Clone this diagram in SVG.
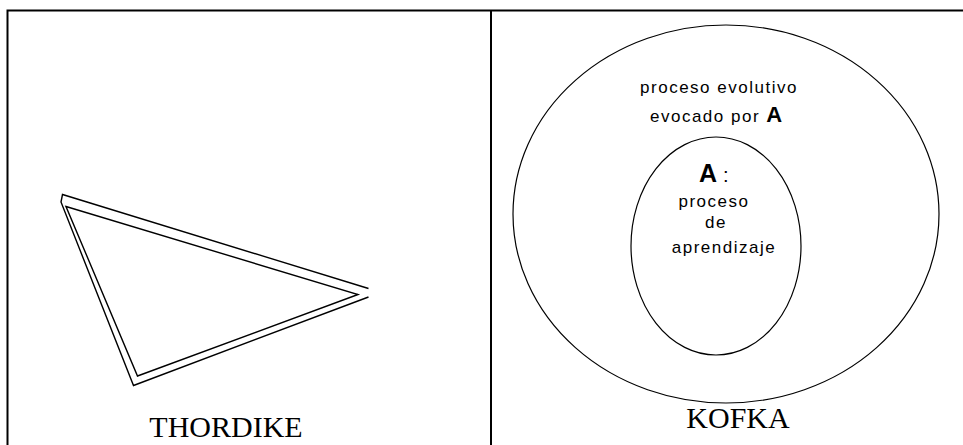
<svg xmlns="http://www.w3.org/2000/svg" width="963" height="445" viewBox="0 0 963 445">
<style>
.frame{stroke:#000;stroke-width:2;fill:none}
.tri{stroke:#000;stroke-width:1.4;fill:none;stroke-linejoin:miter}
.ring{stroke:#000;stroke-width:1.2;fill:none}
.lbl{font-family:"Liberation Serif","Times New Roman",serif;font-size:30px;fill:#000;text-anchor:middle}
.t{font-family:"Liberation Sans",Arial,sans-serif;font-size:17px;fill:#000;letter-spacing:1.5px}
.b{font-family:"Liberation Sans",Arial,sans-serif;font-weight:bold;fill:#000}
</style>
<rect width="963" height="445" fill="#fff"/>
<g id="frame">
<path class="frame" d="M7.5,445 V10.5 H963 M491,10.5 V445"/>
</g>
<g id="thordike">
<polyline class="tri" points="368.5,288.5 62.5,194.5 61,202 133.5,385.5 368.5,297"/>
<polygon class="tri" points="66,206.5 358,294.5 137.5,376"/>
<text class="lbl" x="226" y="437">THORDIKE</text>
</g>
<g id="kofka">
<ellipse class="ring" cx="726" cy="214" rx="213" ry="189"/>
<ellipse class="ring" cx="716" cy="246" rx="85" ry="109"/>
<text class="t" x="719" y="93" text-anchor="middle">proceso evolutivo</text>
<text class="t" x="650" y="122">evocado por <tspan class="b" font-size="22px" letter-spacing="0">A</tspan></text>
<text class="b" x="699" y="182" font-size="25px">A <tspan font-weight="normal" font-size="20px">:</tspan></text>
<text class="t" x="714" y="207" text-anchor="middle">proceso</text>
<text class="t" x="716" y="228" text-anchor="middle">de</text>
<text class="t" x="724" y="253" text-anchor="middle">aprendizaje</text>
<text class="lbl" x="738" y="428">KOFKA</text>
</g>
</svg>
